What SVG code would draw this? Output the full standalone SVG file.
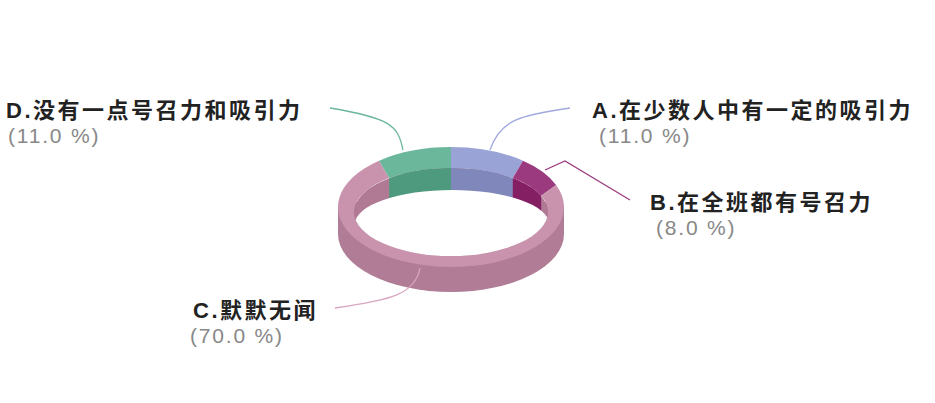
<svg xmlns="http://www.w3.org/2000/svg" width="935" height="403" viewBox="0 0 935 403">
<style>
.l{font-family:"Liberation Sans","Noto Sans CJK SC",sans-serif;font-size:22px;letter-spacing:2.5px;font-weight:bold;fill:#222}
.p{font-family:"Liberation Sans","Noto Sans CJK SC",sans-serif;font-size:21px;letter-spacing:1.8px;fill:#888}
.c{fill:none;stroke-width:1.3}
</style>
<defs><clipPath id="ic"><ellipse cx="451" cy="212" rx="97" ry="44"/></clipPath></defs>
<rect width="935" height="403" fill="#fff"/>
<g id="donut">
<ellipse cx="451" cy="234" rx="113" ry="58" fill="#b07c96"/>
<rect x="338" y="207" width="226" height="27" fill="#b07c96"/>
<path d="M451,147 A113,60 0 0 1 523,160.7 L512.8,178.1 A97,44 0 0 0 451,168 Z" fill="#9aa3d6"/>
<path d="M523,160.7 A113,60 0 0 1 556.1,184.9 L541.2,195.8 A97,44 0 0 0 512.8,178.1 Z" fill="#9b3a7e"/>
<path d="M556.1,184.9 A113,60 0 1 1 379,160.7 L389.2,178.1 A97,44 0 1 0 541.2,195.8 Z" fill="#c993ae"/>
<path d="M379,160.7 A113,60 0 0 1 451,147 L451,168 A97,44 0 0 0 389.2,178.1 Z" fill="#6bb79b"/>
<g clip-path="url(#ic)">
<ellipse cx="451" cy="212" rx="97" ry="44" fill="#b07a95"/>
<rect x="451" y="160" width="61.8" height="60" fill="#7f87bb"/>
<rect x="512.8" y="160" width="28.4" height="60" fill="#851f63"/>
<rect x="389.2" y="160" width="61.8" height="60" fill="#4e9a7e"/>
<ellipse cx="452" cy="224" rx="97" ry="34" fill="#fff"/>
</g>
</g>
<g id="connectors">
<path class="c" stroke="#a3aae0" d="M490,150 C500,120 520,115 570,108"/>
<path class="c" stroke="#9b3a7e" d="M545,170 L565,161 L630,200"/>
<path class="c" stroke="#6bb79b" d="M403,150 C398,125 390,118 330,108"/>
<path class="c" stroke="#d9a5bf" d="M420,268 C415,295 390,300 335,308"/>
</g>
<g id="labelD"><text class="l" x="6" y="118">D.没有一点号召力和吸引力</text><text class="p" x="8" y="143">(11.0 %)</text></g>
<g id="labelA"><text class="l" x="592" y="118">A.在少数人中有一定的吸引力</text><text class="p" x="599" y="143">(11.0 %)</text></g>
<g id="labelB"><text class="l" x="650" y="210">B.在全班都有号召力</text><text class="p" x="656" y="235">(8.0 %)</text></g>
<g id="labelC"><text class="l" x="193" y="318">C.默默无闻</text><text class="p" x="190" y="343">(70.0 %)</text></g>
</svg>
